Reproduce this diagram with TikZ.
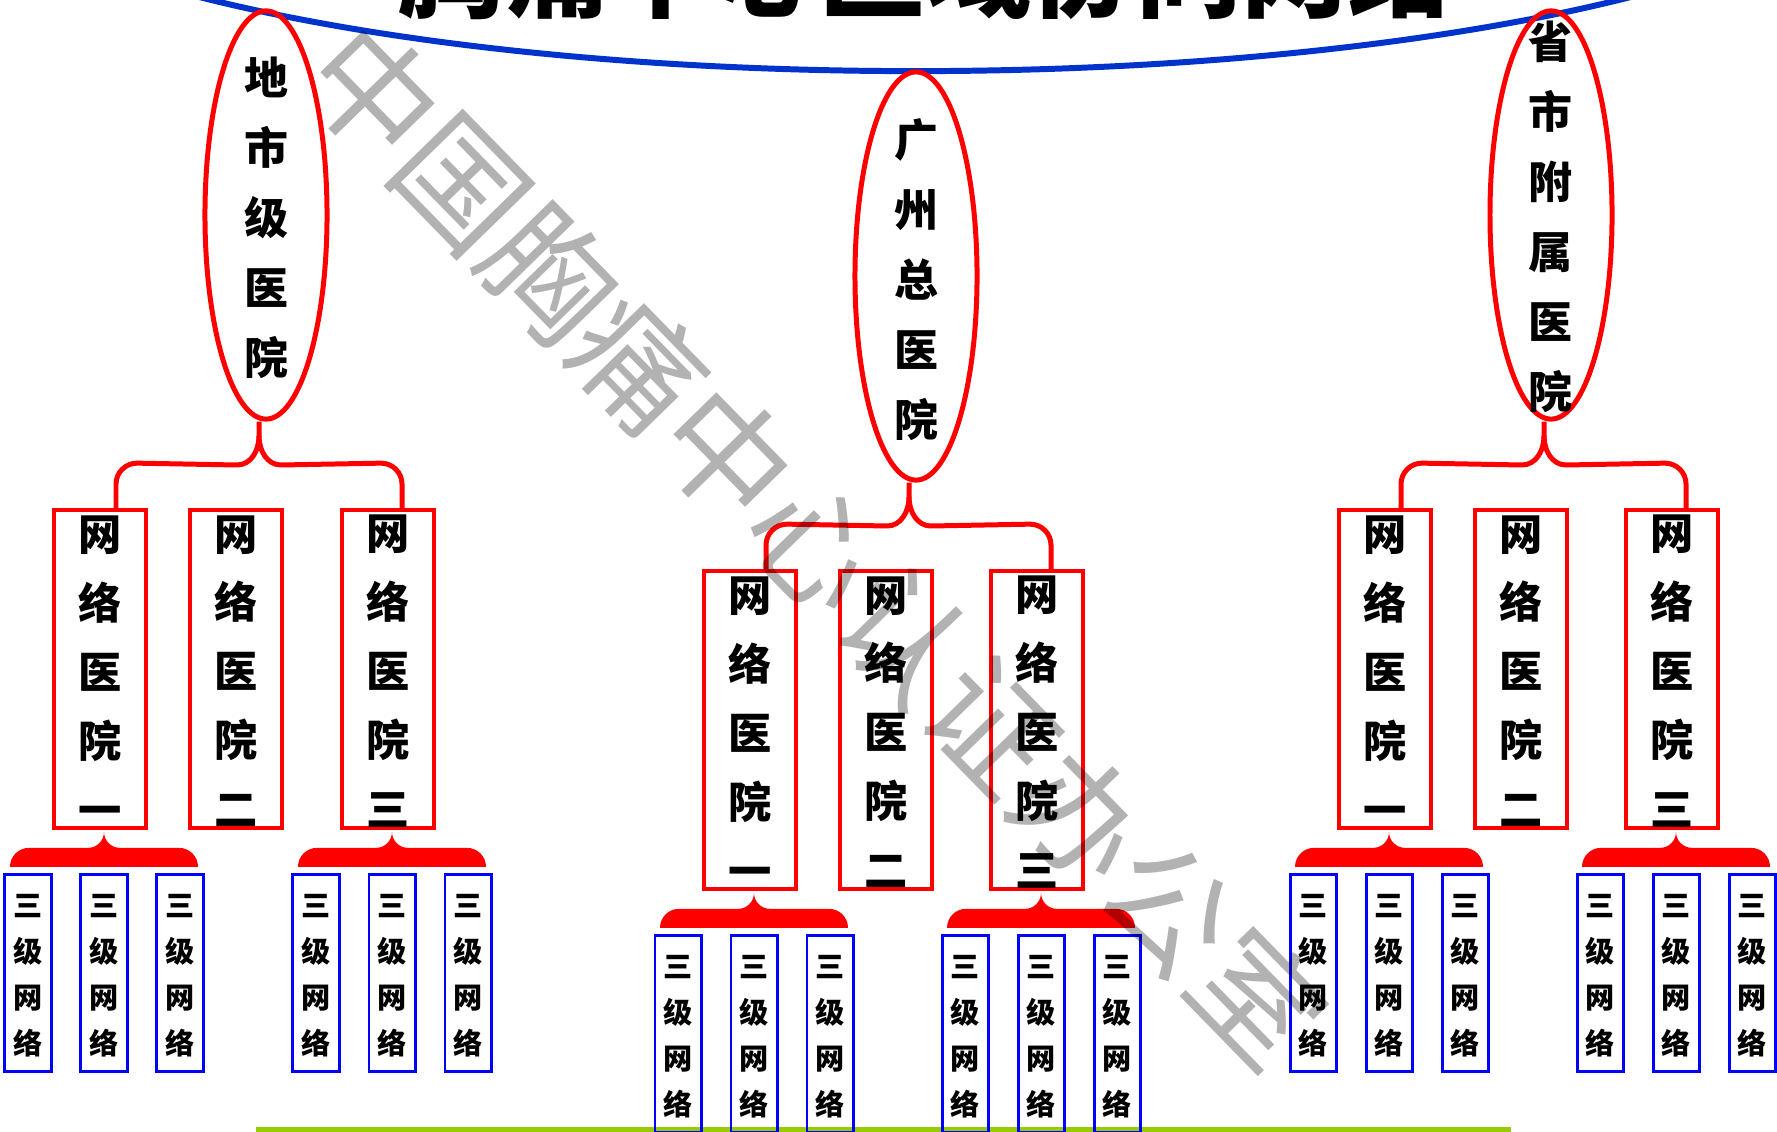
\documentclass[tikz,border=0pt]{standalone}
\usepackage{fontspec}
\newfontfamily\cjk{Noto Sans CJK SC}
\usetikzlibrary{shapes.geometric,calc}
\definecolor{ellblue}{RGB}{0,51,204}
\definecolor{redc}{RGB}{255,0,0}
\definecolor{bluec}{RGB}{0,0,255}
\definecolor{greenc}{RGB}{153,204,0}
\tikzset{
 bigell/.style={ellipse, draw=ellblue, line width=1.7pt, minimum width=19.8cm, minimum height=4.8cm, inner sep=0pt},
 topell/.style={ellipse, draw=redc, line width=1.42pt, minimum width=1.22cm, minimum height=4.08cm, inner sep=0pt},
 hosp/.style={rectangle, draw=redc, line width=1pt, minimum width=0.92cm, minimum height=3.18cm, inner sep=0pt},
 net/.style={rectangle, draw=bluec, line width=0.85pt, minimum width=0.46cm, minimum height=1.97cm, inner sep=0pt},
 elltxt/.style={align=center, inner sep=0pt, font=\cjk\bfseries\fontsize{12.5}{19.9}\selectfont},
 hosptxt/.style={align=center, inner sep=0pt, font=\cjk\bfseries\fontsize{12.3}{19.6}\selectfont},
 nettxt/.style={align=center, inner sep=0pt, font=\cjk\bfseries\fontsize{8.3}{13.1}\selectfont},
 titletxt/.style={inner sep=0pt, font=\cjk\bfseries\fontsize{30}{30}\selectfont},
 wmark/.style={inner sep=0pt, text=black, text opacity=0.3, font=\cjk\fontsize{36}{36}\selectfont},
 conn/.style={draw=redc, line width=1.42pt},
 bracefill/.style={fill=redc, draw=none},
}
\begin{document}
\begin{tikzpicture}[x=0.01cm, y=-0.01cm]
\useasboundingbox (0,0) rectangle (1777,1131);
\fill[white] (0,0) rectangle (1777,1131);

% bottom green rule
\draw[greenc, line width=1.42pt] (256,1129) -- (1511,1129);

% title (mostly cut off by the top edge)
\node[titletxt, anchor=base] (title) at (925,10) {胸痛中心区域协同网络};
\node[bigell] (top) at (915,-169) {};

% top-level hospitals
\node[topell] (L) at (266,215) {};
\node[elltxt] (Ltxt) at (266,218) {地\\市\\级\\医\\院};
\node[topell] (M) at (916,276) {};
\node[elltxt] (Mtxt) at (916,280) {广\\州\\总\\医\\院};
\node[topell] (R) at (1551,215) {};
\node[elltxt] (Rtxt) at (1550,217) {省\\市\\附\\属\\医\\院};

% network hospitals
\foreach \n/\x/\y/\c in {a1/100/669/一, a2/236/669/二, a3/388/669/三,
                         m1/750/730/一, m2/886/730/二, m3/1037/730/三,
                         r1/1385/669/一, r2/1521/669/二, r3/1672/669/三}{
  \node[hosp] (\n) at (\x,\y) {};
  \node[hosptxt] (\n txt) at (\x,\y+2) {网\\络\\医\\院\\\c};
}

% connectors from top hospitals to network hospitals
\coordinate (Lc) at (259,436);
\coordinate (Mc) at (909,497);
\coordinate (Rc) at (1544,436);
\foreach \e/\p/\q in {L/a1/a3, M/m1/m3, R/r1/r3}{
  \draw[conn] (\e.south -| \e c) -- (\e c)
     to[out=-90,in=0] ($(\e c)+(-22,29)$) -- ($(\p.north)+(37,-45)$)
     to[out=180,in=90] ($(\p.north)+(16,-24)$) -- ($(\p.north)+(16,0)$);
  \draw[conn] (\e c)
     to[out=-90,in=180] ($(\e c)+(22,29)$) -- ($(\q.north)+(-7,-45)$)
     to[out=0,in=90] ($(\q.north)+(14,-24)$) -- ($(\q.north)+(14,0)$);
}

% braces and third-level networks
\foreach \b in {a1,a3,m1,m3,r1,r3}{
  \fill[bracefill] ($(\b.south)+(4,2)$) to[out=-90,in=0] ++(-16,16) -- ++(-59,0)
     to[out=180,in=90] ++(-19,19) -- ++(188,0)
     to[out=90,in=0] ++(-19,-19) -- ++(-59,0)
     to[out=180,in=-90] ($(\b.south)+(4,2)$) -- cycle;
  \foreach \k/\dx in {1/-72,2/4,3/80}{
    \node[net] (n\b\k) at ($(\b.south)+(\dx,143.5)$) {};
    \node[nettxt] (t\b\k) at ($(n\b\k)+(0,2)$) {三\\级\\网\\络};
  }
}

% watermark
\node[wmark, rotate=-45.7] (wm) at (816,545) {中国胸痛中心认证办公室};
\end{tikzpicture}
\end{document}
